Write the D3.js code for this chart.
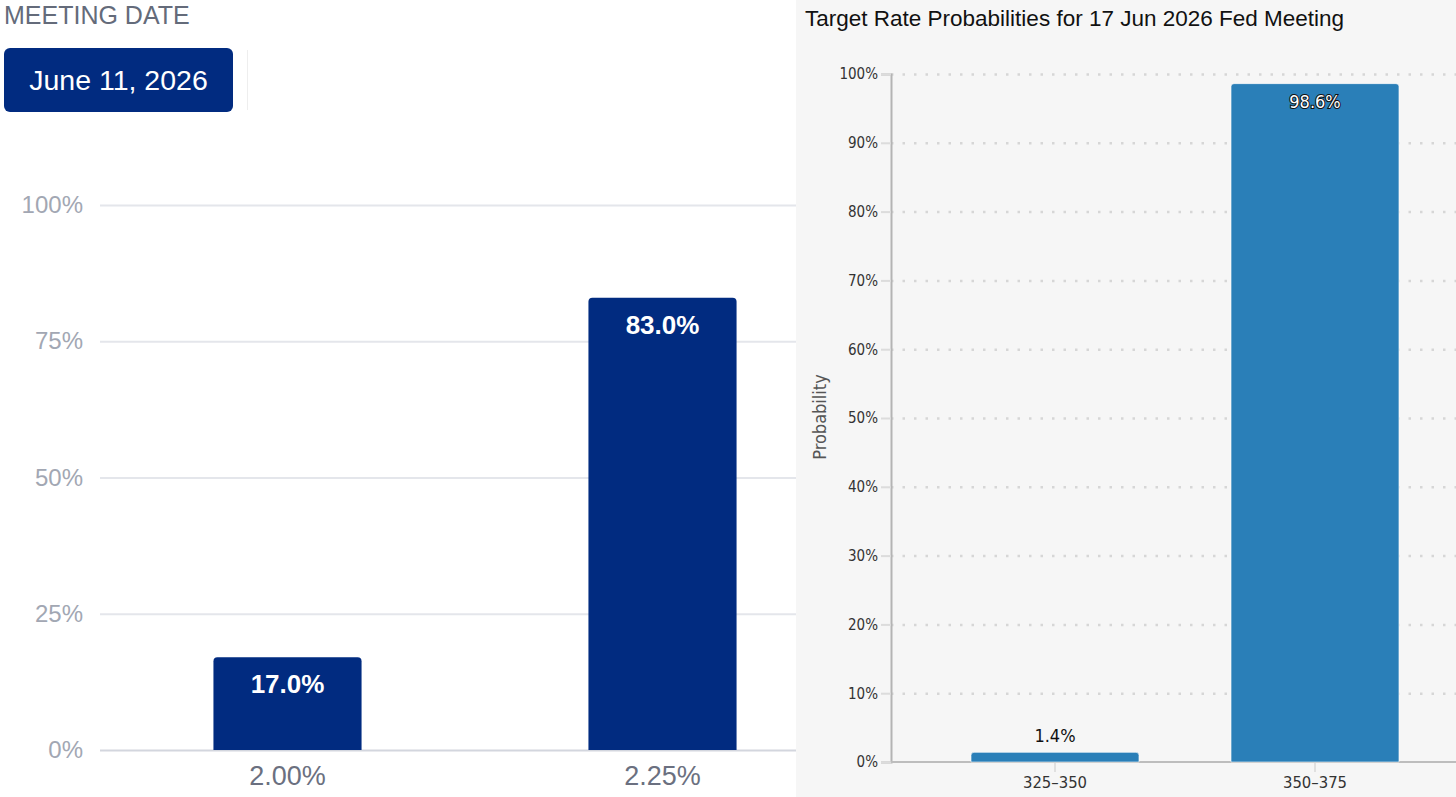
<!DOCTYPE html>
<html>
<head>
<meta charset="utf-8">
<script src="https://cdn.jsdelivr.net/npm/d3@7"></script>
<style>
  body { margin: 0; background: #fff; }
  svg { display: block; }
</style>
</head>
<body>
<svg id="chart" width="1456" height="797"></svg>
<script>
// left panel data (CME FedWatch style)
var meetingDate = "June 11, 2026";
var leftRates = ["2.00%", "2.25%"];
var leftProbs = [17.0, 83.0];
var leftTicks = [0, 25, 50, 75, 100];

// right panel data
var rightTitle = "Target Rate Probabilities for 17 Jun 2026 Fed Meeting";
var rightRanges = ["325\u2013350", "350\u2013375"];
var rightProbs = [1.4, 98.6];
var rightTicks = [0, 10, 20, 30, 40, 50, 60, 70, 80, 90, 100];

var sans = "'Liberation Sans', Arial, sans-serif";
var cond = "'DejaVu Sans Condensed', 'DejaVu Sans', Verdana, sans-serif";

var svg = d3.select("#chart");

// bar with rounded top corners only
function topRounded(x, y, w, h, r) {
    r = Math.min(r, h, w / 2);
    return "M" + x + "," + (y + h) +
        "V" + (y + r) +
        "Q" + x + "," + y + " " + (x + r) + "," + y +
        "H" + (x + w - r) +
        "Q" + (x + w) + "," + y + " " + (x + w) + "," + (y + r) +
        "V" + (y + h) + "Z";
}

// ---------- left panel ----------
var left = svg.append("g").attr("font-family", sans);

left.append("text")
    .attr("x", 4).attr("y", 24)
    .attr("font-size", 25)
    .attr("fill", "#646b7a")
    .text("MEETING DATE");

left.append("rect")
    .attr("x", 4).attr("y", 48)
    .attr("width", 229).attr("height", 64)
    .attr("rx", 6)
    .attr("fill", "#012b80");

left.append("text")
    .attr("x", 118.5).attr("y", 90)
    .attr("text-anchor", "middle")
    .attr("font-size", 28.5)
    .attr("fill", "#fff")
    .text(meetingDate);

left.append("line")
    .attr("x1", 247.5).attr("x2", 247.5)
    .attr("y1", 50).attr("y2", 110)
    .attr("stroke", "#eeeeee");

var ly = d3.scaleLinear().domain([0, 100]).range([750, 205]);
var lx = d3.scaleBand().domain(leftRates).range([100, 850])
    .paddingInner(0.605).paddingOuter(0.3025);

var lyAxis = left.append("g")
    .attr("transform", "translate(100,0)")
    .call(d3.axisLeft(ly).tickValues(leftTicks)
        .tickSize(-700).tickPadding(17)
        .tickFormat(function (d) { return d + "%"; }));
lyAxis.select(".domain").remove();
lyAxis.selectAll("line")
    .attr("stroke", function (d) { return d === 0 ? "#d3d6de" : "#e4e6eb"; })
    .attr("stroke-width", 2);
lyAxis.selectAll("text")
    .attr("font-size", 24)
    .attr("font-family", sans)
    .attr("fill", "#a2a7b3");

var lxAxis = left.append("g")
    .attr("transform", "translate(0,750)")
    .call(d3.axisBottom(lx).tickSize(0).tickPadding(16));
lxAxis.select(".domain").remove();
lxAxis.selectAll("text")
    .attr("font-size", 27)
    .attr("font-family", sans)
    .attr("fill", "#6b7080");

left.selectAll(".lbar")
    .data(leftProbs)
    .enter()
    .append("path")
    .attr("class", "lbar")
    .attr("d", function (d, i) {
        return topRounded(lx(leftRates[i]), ly(d), lx.bandwidth(), ly(0) - ly(d), 4);
    })
    .attr("fill", "#012b80");

left.selectAll(".llabel")
    .data(leftProbs)
    .enter()
    .append("text")
    .attr("class", "llabel")
    .attr("x", function (d, i) { return lx(leftRates[i]) + lx.bandwidth() / 2; })
    .attr("y", function (d) { return ly(d) + 36; })
    .attr("text-anchor", "middle")
    .attr("font-size", 26)
    .attr("font-weight", "bold")
    .attr("fill", "#fff")
    .text(function (d) { return d.toFixed(1) + "%"; });

// ---------- right panel ----------
var right = svg.append("g").attr("font-family", cond);

right.append("rect")
    .attr("x", 796).attr("y", 0)
    .attr("width", 660).attr("height", 797)
    .attr("fill", "#f6f6f6");

right.append("text")
    .attr("x", 805).attr("y", 26)
    .attr("font-family", sans)
    .attr("font-size", 22.5)
    .attr("fill", "#111")
    .text(rightTitle);

var ry = d3.scaleLinear().domain([0, 100]).range([762, 74]);
var rx = d3.scaleBand().domain(rightRanges).range([925, 1445])
    .paddingInner(0.354).paddingOuter(0.177);

// dotted grid
var grid = right.append("g")
    .attr("transform", "translate(891,0)")
    .call(d3.axisLeft(ry).tickValues(rightTicks.slice(1))
        .tickSize(-565).tickFormat(""));
grid.select(".domain").remove();
grid.selectAll("line")
    .attr("stroke", "#d6d6d6")
    .attr("stroke-width", 2.5)
    .attr("stroke-dasharray", "2.5,9");

var ryAxis = right.append("g")
    .attr("transform", "translate(891,0)")
    .call(d3.axisLeft(ry).tickValues(rightTicks)
        .tickSize(10).tickPadding(3)
        .tickFormat(function (d) { return d + "%"; }));
ryAxis.select(".domain")
    .attr("stroke", "#b4b4b4")
    .attr("stroke-width", 2);
ryAxis.selectAll(".tick line").attr("stroke", "#dcdcdc").attr("stroke-width", 2);
ryAxis.selectAll("text")
    .attr("font-size", 15)
    .attr("font-family", cond)
    .attr("fill", "#333");

right.append("text")
    .attr("transform", "translate(826,417) rotate(-90)")
    .attr("text-anchor", "middle")
    .attr("font-size", 18)
    .attr("fill", "#555")
    .text("Probability");

// x axis base line
right.append("line")
    .attr("x1", 891).attr("x2", 1456)
    .attr("y1", 762).attr("y2", 762)
    .attr("stroke", "#bdbdbd")
    .attr("stroke-width", 2);

var rxAxis = right.append("g")
    .attr("transform", "translate(0,763)")
    .call(d3.axisBottom(rx).tickSize(9).tickPadding(4));
rxAxis.select(".domain").remove();
rxAxis.selectAll(".tick line").attr("stroke", "#d8d8d8").attr("stroke-width", 1.5);
rxAxis.selectAll("text")
    .attr("font-size", 16.5)
    .attr("font-family", cond)
    .attr("fill", "#333");

right.selectAll(".rbar")
    .data(rightProbs)
    .enter()
    .append("path")
    .attr("class", "rbar")
    .attr("d", function (d, i) {
        return topRounded(rx(rightRanges[i]), ry(d), rx.bandwidth(), ry(0) - ry(d), 3);
    })
    .attr("fill", "#2a7fb8")
    .attr("stroke", "#ffffff")
    .attr("stroke-opacity", 0.6)
    .attr("stroke-width", 1);

right.selectAll(".rlabel")
    .data(rightProbs)
    .enter()
    .append("text")
    .attr("class", "rlabel")
    .attr("x", function (d, i) { return rx(rightRanges[i]) + rx.bandwidth() / 2; })
    .attr("y", function (d) { return d > 50 ? ry(d) + 24 : ry(d) - 10; })
    .attr("text-anchor", "middle")
    .attr("font-size", 18)
    .attr("fill", function (d) { return d > 50 ? "#fff" : "#111"; })
    .attr("stroke", function (d) { return d > 50 ? "#111" : "none"; })
    .attr("stroke-width", 2)
    .attr("paint-order", "stroke")
    .text(function (d) { return d.toFixed(1) + "%"; });
</script>
</body>
</html>
